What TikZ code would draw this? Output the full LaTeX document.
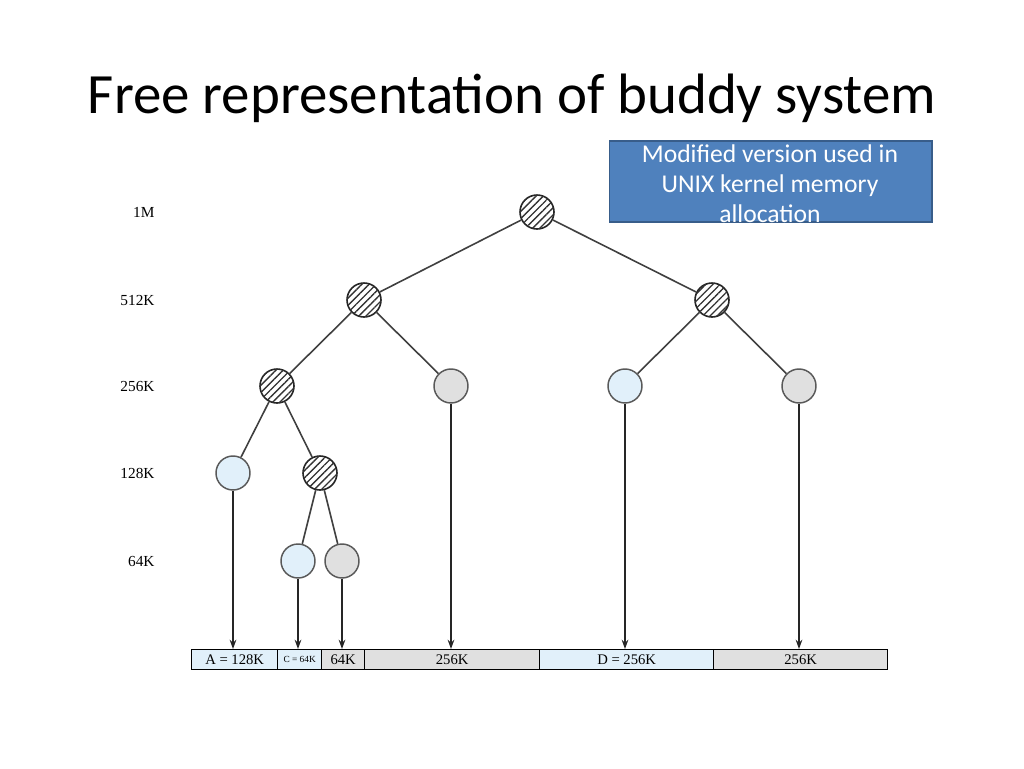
\documentclass[tikz,border=0pt]{standalone}
\usepackage{fontspec}
\setmainfont{Liberation Serif}
\newfontfamily\slidefont{Carlito}
\usetikzlibrary{patterns.meta,arrows.meta}
\definecolor{freeblue}{RGB}{225,240,250}
\definecolor{usedgray}{RGB}{224,224,224}
\definecolor{boxblue}{RGB}{79,129,189}
\definecolor{boxedge}{RGB}{56,93,138}
\tikzset{every picture/.style={line width=0.75pt}}
\tikzset{
  split/.style={circle,draw=black!85,minimum size=25.5pt,inner sep=0pt,line width=1.2pt,fill=white,
    postaction={pattern={Lines[angle=45,distance=3.8pt,line width=1pt]},pattern color=black!80}},
  freeleaf/.style={circle,draw=black!65,minimum size=25.5pt,inner sep=0pt,line width=1.1pt,fill=freeblue},
  usedleaf/.style={circle,draw=black!65,minimum size=25.5pt,inner sep=0pt,line width=1.1pt,fill=usedgray},
  seg/.style={draw,line width=1pt,anchor=north west,minimum height=15pt,inner sep=0pt,font=\fontsize{11}{11}\selectfont},
  lvl/.style={anchor=east,inner sep=0pt,font=\fontsize{11.5}{11.5}\selectfont},
  link/.style={line width=1.2pt,black!75},
  drop/.style={line width=1.3pt,black!85,-{Stealth[length=7pt,width=5pt]}}
}

\begin{document}
\begin{tikzpicture}[x=0.75pt,y=0.75pt,yscale=-1,xscale=1]
\useasboundingbox (0,0) rectangle (1024,768);

% Title
\node (title) at (512,98) {\slidefont\fontsize{42.7}{46}\selectfont Free representation of buddy system};

% Note box
\node [draw=boxedge,line width=1pt,fill=boxblue,minimum width=242pt,minimum height=60.75pt,inner sep=0pt] (note) at (770.5,181.5) {};
\node [text=white,align=center,font=\slidefont\fontsize{19.2}{22.5}\selectfont] (notetext) at (770,184) {Modified version used in\\UNIX kernel memory\\allocation};

% Level labels
\node [lvl] (l1) at (155,212) {1M};
\node [lvl] (l2) at (155,300) {512K};
\node [lvl] (l3) at (155,386) {256K};
\node [lvl] (l4) at (155,473) {128K};
\node [lvl] (l5) at (155,561) {64K};

% Tree
\node [split] (r) at (537,212) {};
\node [split] (a) at (364,300) {};
\node [split] (b) at (712,300) {};
\node [split] (aa) at (277,386) {};
\node [usedleaf] (ab) at (451,386) {};
\node [freeleaf] (ba) at (625,386) {};
\node [usedleaf] (bb) at (799,386) {};
\node [freeleaf] (aaa) at (233,473) {};
\node [split] (aab) at (320,473) {};
\node [freeleaf] (aaba) at (298,561) {};
\node [usedleaf] (aabb) at (342,561) {};

\draw [link] (r) -- (a);
\draw [link] (r) -- (b);
\draw [link] (a) -- (aa);
\draw [link] (a) -- (ab);
\draw [link] (b) -- (ba);
\draw [link] (b) -- (bb);
\draw [link] (aa) -- (aaa);
\draw [link] (aa) -- (aab);
\draw [link] (aab) -- (aaba);
\draw [link] (aab) -- (aabb);

% Memory bar
\node [seg,fill=freeblue,minimum width=64.5pt] (mA) at (191,649) {A = 128K};
\node [seg,fill=freeblue,minimum width=33pt,font=\fontsize{7}{7}\selectfont] (mC) at (277,649) {C = 64K};
\node [seg,fill=usedgray,minimum width=32.25pt] (m64) at (321,649) {64K};
\node [seg,fill=usedgray,minimum width=131.25pt] (m256a) at (364,649) {256K};
\node [seg,fill=freeblue,minimum width=130.5pt] (mD) at (539,649) {D = 256K};
\node [seg,fill=usedgray,minimum width=130.5pt] (m256b) at (713,649) {256K};

% Drops
\draw [drop] (aaa) -- (aaa |- mA.north);
\draw [drop] (aaba) -- (aaba |- mC.north);
\draw [drop] (aabb) -- (aabb |- m64.north);
\draw [drop] (ab) -- (ab |- m256a.north);
\draw [drop] (ba) -- (ba |- mD.north);
\draw [drop] (bb) -- (bb |- m256b.north);

\end{tikzpicture}
\end{document}
